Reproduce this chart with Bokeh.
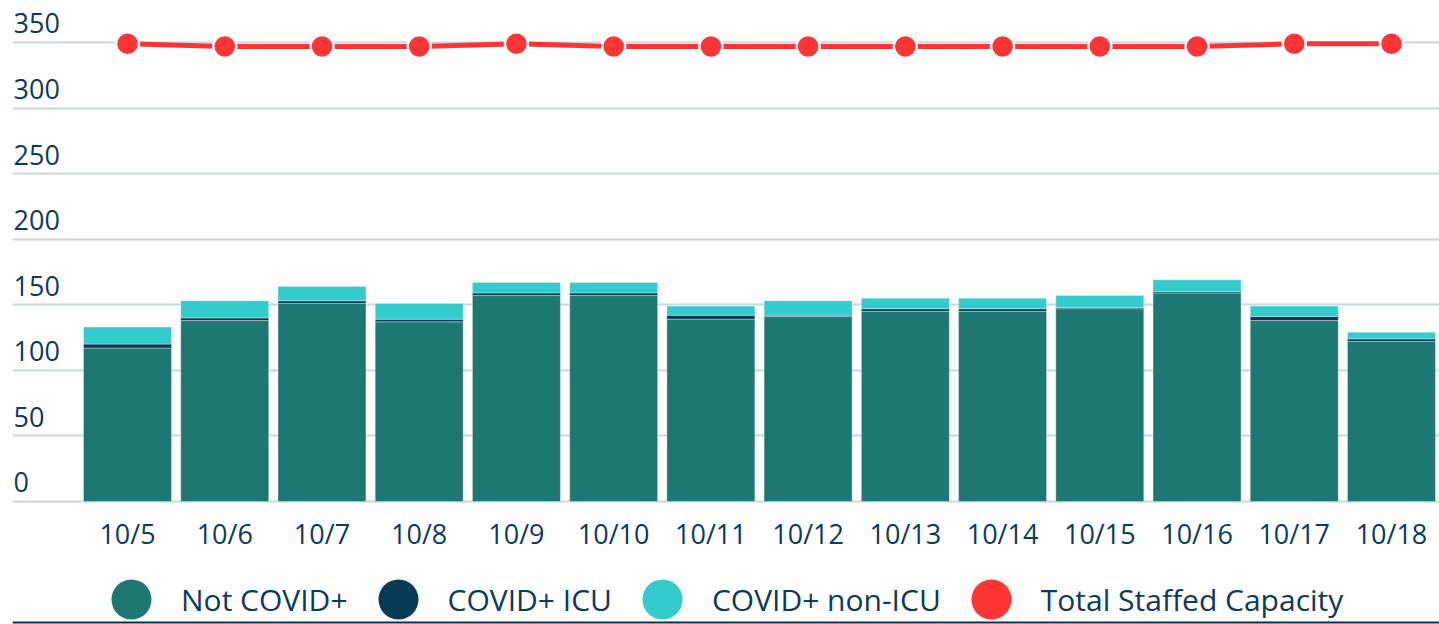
from bokeh.plotting import figure
from bokeh.layouts import column
from bokeh.models import (Range1d, FixedTicker, LabelSet, ColumnDataSource,
                          Legend, LegendItem, Span)
from bokeh.core.properties import value
from bokeh.embed import file_html
from bokeh.resources import INLINE

# ---------------- data ----------------
dates = ["10/5", "10/6", "10/7", "10/8", "10/9", "10/10", "10/11",
         "10/12", "10/13", "10/14", "10/15", "10/16", "10/17", "10/18"]
not_covid = [117, 138, 151, 137, 157, 157, 139, 141, 145, 145, 147, 159, 138, 122]
covid_icu = [3, 2, 2, 2, 2, 2, 3, 1, 2, 2, 1, 1, 3, 2]
covid_non_icu = [13, 13, 11, 12, 8, 8, 7, 11, 8, 8, 9, 9, 8, 5]
capacity = [349, 347, 347, 347, 349, 347, 347, 347, 347, 347, 347, 347, 349, 349]
y_ticks = [0, 50, 100, 150, 200, 250, 300, 350]
series_names = ["Not COVID+", "COVID+ ICU", "COVID+ non-ICU", "Total Staffed Capacity"]

# ---------------- style ----------------
TEAL = "#1d7874"
NAVY = "#073a55"
CYAN = "#33cccc"
RED = "#ff3535"
GRID = "#ccd6de"
TEXT = "#0d3a58"
FONT = "Open Sans"

xs = list(range(len(dates)))
src = ColumnDataSource(dict(x=xs, date=dates, not_covid=not_covid,
                            covid_icu=covid_icu, covid_non_icu=covid_non_icu,
                            capacity=capacity))

p = figure(frame_width=1427, frame_height=496,
           x_range=Range1d(-1.183, 13.494), y_range=Range1d(-2.3, 375.9),
           output_backend="svg", toolbar_location=None, y_axis_location=None,
           min_border_left=12, min_border_right=0, min_border_top=8,
           min_border_bottom=50)
p.outline_line_color = None
p.background_fill_color = "white"
p.border_fill_color = "white"
p.xgrid.visible = False
p.ygrid.ticker = FixedTicker(ticks=y_ticks)
p.ygrid.grid_line_color = GRID
p.ygrid.grid_line_width = 2

bars = p.vbar_stack(["not_covid", "covid_icu", "covid_non_icu"], x="x",
                    width=0.905, source=src,
                    fill_color=[TEAL, NAVY, CYAN],
                    line_color="white", line_alpha=0.35, line_width=1)

p.line(x="x", y="capacity", source=src, line_color=RED, line_width=5)
cap_pts = p.scatter(x="x", y="capacity", source=src, size=23, fill_color=RED,
                    line_color="white", line_width=2.5)

# x axis
p.xaxis.ticker = FixedTicker(ticks=xs)
p.xaxis.major_label_overrides = {i: d for i, d in enumerate(dates)}
p.xaxis.axis_line_color = None
p.xaxis.major_tick_line_color = None
p.xaxis.minor_tick_line_color = None
p.xaxis.major_label_standoff = 4
p.xaxis.major_label_text_font = FONT
p.xaxis.major_label_text_font_size = "27px"
p.xaxis.major_label_text_color = TEXT

# y tick labels sitting above the grid lines
ysrc = ColumnDataSource(dict(tick=y_ticks, label=[str(t) for t in y_ticks]))
p.add_layout(LabelSet(x=1, x_units="screen", y="tick", y_units="data",
                      text="label", source=ysrc, y_offset=9,
                      text_baseline="alphabetic", text_align="left",
                      text_font=value(FONT), text_font_size=value("27px"),
                      text_color=value(TEXT)))

# legend strip below the chart (circle markers)
lg = figure(width=1439, height=70, x_range=Range1d(0, 1), y_range=Range1d(0, 1),
            output_backend="svg", toolbar_location=None,
            x_axis_location=None, y_axis_location=None,
            min_border_left=0, min_border_right=0, min_border_top=0,
            min_border_bottom=0)
lg.outline_line_color = None
lg.grid.visible = False
items = []
for name, col in zip(series_names, [TEAL, NAVY, CYAN, RED]):
    # legend proxy marker, kept outside the visible range
    r = lg.scatter(x=[-5], y=[-5], size=40, fill_color=col, line_color=None)
    items.append(LegendItem(label=name, renderers=[r]))

legend = Legend(items=items, orientation="horizontal", location=(69, -25),
                glyph_width=100, glyph_height=100, label_standoff=0,
                spacing=-2, padding=0, margin=0, border_line_color=None,
                background_fill_alpha=0, label_text_font=FONT,
                label_text_font_size="30px", label_text_color=TEXT)
lg.add_layout(legend)
lg.add_layout(Span(location=2, location_units="screen", dimension="width",
                   line_color="#0a2f4a", line_width=2))

layout = column(p, lg, spacing=0)
open("out.html", "w").write(file_html(layout, INLINE))
